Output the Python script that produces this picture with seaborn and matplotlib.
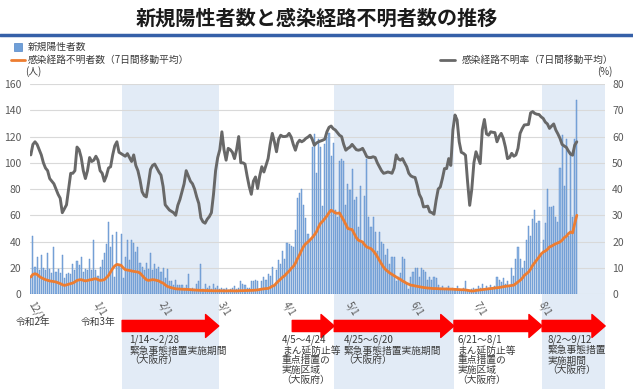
import numpy as np
import pandas as pd
import seaborn as sns
import matplotlib.pyplot as plt
from matplotlib.lines import Line2D
from matplotlib.patches import Rectangle

sns.set_theme(style='white')
plt.rcParams['font.family'] = ['Noto Sans CJK JP', 'DejaVu Sans']

# 新規陽性者数（日別）12/1 ~ 8/18
new_cases = [
    # 12月
    13, 44, 21, 28, 18, 30, 20, 18, 31, 19, 16, 36, 17, 19, 16, 30, 12, 15, 16, 15,
    23, 18, 25, 22, 28, 17, 19, 18, 27, 18, 41,
    # 1月
    18, 14, 21, 26, 31, 38, 55, 36, 45, 13, 47, 22, 46, 12, 28, 41, 26, 41, 39, 32,
    36, 24, 21, 18, 24, 19, 31, 18, 23, 19, 21,
    # 2月
    17, 20, 12, 19, 10, 10, 7, 11, 7, 7, 7, 5, 7, 15, 4, 5, 4, 8, 10, 23,
    4, 8, 5, 6, 4, 8, 5, 6,
    # 3月
    4, 5, 4, 5, 3, 4, 5, 6, 4, 5, 10, 8, 7, 5, 5, 10, 10, 11, 10, 3,
    10, 13, 11, 15, 14, 21, 7, 18, 26, 23, 33,
    # 4月
    27, 39, 38, 37, 36, 49, 73, 77, 80, 68, 58, 46, 41, 112, 122, 92, 118, 112, 67, 114,
    120, 123, 105, 115, 64, 59, 101, 103, 101, 68,
    # 5月
    84, 79, 95, 72, 74, 51, 82, 40, 75, 103, 59, 51, 59, 47, 33, 47, 40, 38, 30, 34,
    23, 28, 28, 10, 13, 16, 28, 27, 8, 4, 13,
    # 6月
    17, 20, 20, 13, 20, 18, 17, 11, 13, 11, 13, 12, 7, 5, 6, 4, 5, 6, 4, 5,
    3, 6, 4, 3, 5, 10, 3, 3, 4, 5,
    # 7月
    4, 6, 5, 8, 4, 6, 5, 7, 4, 6, 13, 11, 9, 12, 8, 10, 7, 20, 14, 27,
    36, 27, 20, 25, 41, 52, 44, 57, 64, 54, 56,
    # 8月
    30, 41, 54, 80, 66, 66, 67, 59, 55, 96, 121, 82, 118, 44, 108, 59, 118, 148,
]

# 感染経路不明者数（7日間移動平均）
unknown_avg = [
    13, 15, 15.5, 15, 13.5, 12.5, 11.7, 11, 10.5, 10, 9.8, 9.5, 9.2, 8.6, 8, 7.2, 6.6, 7, 7.5, 8,
    8.4, 9.3, 10.4, 10.8, 11, 10.5, 10, 10.4, 10.8, 11, 11.5,
    11.7, 11, 10.4, 10.6, 11, 12.5, 14.2, 16.8, 19.5, 21.5, 22.6, 22.3, 21.9, 20, 18.6, 18.3, 18, 17.6, 17.3, 17,
    16.8, 16, 14.2, 12.5, 11, 10.4, 10.7, 11, 10.8, 10.4, 10,
    9, 8.4, 7, 5.9, 5.3, 4.8, 4.4, 4, 3.9, 3.8, 3.7, 3.6, 3.6, 3.5, 3.4, 3.2, 3.1, 3, 2.9, 2.8,
    2.8, 2.7, 2.7, 2.6, 2.6, 2.5, 2.5, 2.5,
    2.5, 2.5, 2.4, 2.4, 2.5, 2.5, 2.5, 2.4, 2.4, 2.5, 2.6, 2.6, 2.7, 2.7, 2.8, 2.8, 2.9, 3, 3.2, 3.5,
    3.8, 4, 4.2, 4.3, 5, 6, 6.6, 8.5, 10, 11.5, 13,
    14.2, 16, 17.5, 19.5, 21, 23.5, 27, 30, 33.5, 36.5, 38.5, 39.7, 41.3, 43, 45, 47.3, 51, 54, 55.5, 57.5,
    59.5, 62, 63.9, 63, 61.8, 61.5, 61.8, 59, 56.2, 53,
    49.9, 49.5, 49.1, 46, 43, 41, 40.3, 39.7, 37.5, 35.9, 35.2, 34.6, 33, 31, 28.5, 25.7, 23, 20.5, 18.6, 17.3,
    16, 15, 14, 13, 12, 11.2, 10, 9.2, 8.2, 7.5, 6.8,
    6.6, 6.2, 5.9, 5.6, 5.3, 5, 4.8, 4.6, 4.5, 4.3, 4.2, 4.2, 4.1, 4, 4, 3.9, 3.9, 3.8, 3.8, 3.7,
    3.6, 3.5, 3.4, 3.3, 3.3, 3.1, 2.9, 2.6, 2.3, 2.4,
    2.8, 3, 3.2, 3.4, 3.6, 3.8, 4, 4.2, 4.4, 4.6, 4.8, 5, 5.3, 5.6, 5.9, 6.1, 6.3, 6.6, 6.8, 8,
    9.2, 10.5, 12, 14.2, 15.5, 16.8, 19, 21.9, 24, 26, 28.2,
    30.5, 32, 32.8, 34, 35.9, 36.5, 37.5, 38.4, 39, 39.7, 41, 43, 44, 46, 47.3, 46.6, 53.7, 60,
]

# 感染経路不明率（7日間移動平均, %）
unknown_rate = [
    53, 57, 58, 57, 55, 53, 50, 48, 47, 44, 43, 42, 40, 38, 36.5, 31, 32.5, 34, 40, 46,
    46, 47, 56, 55, 52, 47, 44, 47, 52, 50.5, 51,
    52.5, 51, 47, 46, 43, 45, 48, 48.5, 53, 56.5, 58, 54, 53.5, 53, 52.5, 53.5, 52, 50.5, 53, 49,
    47, 43.5, 39, 37.5, 37, 42, 47.5, 49, 49.5, 48, 46.5,
    45.3, 41, 34, 33, 32, 31.5, 31, 30, 33.8, 36, 39, 42, 47, 45, 43, 42, 40, 37, 34.5, 29,
    27.5, 27, 28.5, 29.5, 31, 38, 47, 52,
    55, 61.8, 55, 51, 55.5, 55, 54, 51.6, 55, 60, 50, 50, 49.5, 45, 41, 38, 43, 44.6, 40.2, 45,
    48.5, 46.5, 49, 51.6, 57, 61.2, 58, 54.2, 59, 60.5, 60,
    60, 60.2, 61.2, 59.8, 57, 54.8, 57.5, 58.6, 58, 58.5, 59.3, 59.8, 60.5, 59, 56.7, 57.5, 58, 58.3, 58.6, 59,
    61.8, 63.5, 64, 63, 62.5, 61.5, 60.5, 60, 57, 54.8,
    55.5, 56, 57, 56, 55, 54.8, 55, 55.5, 54, 52.3, 52, 52, 52.3, 52, 50, 48.5, 47, 46, 46.2, 46.5,
    46.3, 46, 48, 53, 51.5, 51, 51.6, 50, 48.5, 46, 45,
    44.6, 44.4, 41.5, 38, 36.4, 33.2, 33.3, 33.5, 31.3, 31, 30.4, 35.7, 40, 40.8, 44, 47.8, 47.8, 51.6, 49, 62.5,
    68.2, 66.3, 58, 54, 53.6, 52.9, 42.7, 33.8, 40, 50,
    54.2, 52, 49.7, 62.5, 66.5, 61, 60.5, 61.8, 61.6, 61.5, 58, 60, 61.2, 59.3, 56, 51.6, 52, 53.6, 52.5, 53,
    55.5, 61.2, 63, 64.4, 64.5, 64.6, 69, 69.5, 68.8, 68.5, 68.4,
    67.5, 66.9, 65.5, 64.8, 63.1, 64, 64.8, 62.5, 61, 59.3, 57, 56.4, 55.9, 54.5, 53.3, 52.9, 56.7, 58,
]

month_starts = ['2020-12-01', '2021-01-01', '2021-02-01', '2021-03-01', '2021-04-01',
                '2021-05-01', '2021-06-01', '2021-07-01', '2021-08-01']
month_labels = ['12/1', '1/1', '2/1', '3/1', '4/1', '5/1', '6/1', '7/1', '8/1']

# 措置期間
period_start = ['2021-01-14', '2021-04-05', '2021-04-25', '2021-06-21', '2021-08-02']
period_end = ['2021-02-28', '2021-04-24', '2021-06-20', '2021-08-01', '2021-09-12']
period_emergency = [True, False, True, False, True]
period_text = [
    '1/14～2/28\n緊急事態措置実施期間\n（大阪府）',
    '4/5～4/24\nまん延防止等\n重点措置の\n実施区域\n（大阪府）',
    '4/25～6/20\n緊急事態措置実施期間\n（大阪府）',
    '6/21～8/1\nまん延防止等\n重点措置の\n実施区域\n（大阪府）',
    '8/2～9/12\n緊急事態措置\n実施期間\n（大阪府）',
]
text_shift = [3, -5.5, 4, 1, 2]  # 日数

start = pd.Timestamp('2020-12-01')
dates = pd.date_range(start, periods=len(new_cases), freq='D')
df = pd.DataFrame({
    'day': (dates - start).days,
    'cases': new_cases,
    'unknown': unknown_avg,
    'rate': unknown_rate,
})


def day(s):
    return (pd.Timestamp(s) - start).days


x_end = day('2021-08-31') + 0.5
xlim = (-0.5, x_end)

BLUE = '#8db4e3'
BLUE_EDGE = '#5285c6'
ORANGE = '#ed7d31'
GRAY = '#686868'
TXT = '#595959'

fig = plt.figure(figsize=(6.33, 3.89), dpi=100)

# 背景（期間の網掛け・矢印・説明）
bg = fig.add_axes([0.047, 0.0, 0.909, 0.784], zorder=0)
bg.set_xlim(xlim)
bg.set_ylim(0, 1)
bg.axis('off')
for s, e, emg, txt, dx in zip(period_start, period_end, period_emergency, period_text, text_shift):
    x0 = day(s) - 0.5
    x1 = min(day(e) + 0.5, x_end)
    if emg:
        bg.axvspan(x0, x1, color='#e2ebf6', lw=0)
    bg.annotate('', xy=(x1, 0.162), xytext=(x0, 0.162),
                xycoords=('data', 'figure fraction'), textcoords=('data', 'figure fraction'),
                arrowprops=dict(arrowstyle='simple,head_length=0.95,head_width=1.65,tail_width=0.8',
                                mutation_scale=10, color='#fe0000', shrinkA=0, shrinkB=0),
                annotation_clip=False)
    bg.annotate(txt, xy=(day(s) + dx, 0.139), xycoords=('data', 'figure fraction'),
                ha='left', va='top', fontsize=7, color='#3a3a3a', linespacing=1.0,
                annotation_clip=False)

# 令和
for s, lab in zip(['2020-12-01', '2021-01-01'], ['令和2年', '令和3年']):
    bg.annotate(lab, xy=(day(s) + 1, 0.172), xycoords=('data', 'figure fraction'),
                ha='center', va='center', fontsize=7, color='#3a3a3a', annotation_clip=False)

# メインのグラフ
ax = fig.add_axes([0.047, 0.244, 0.909, 0.540], zorder=1)
ax.patch.set_alpha(0)
sns.barplot(data=df, x='day', y='cases', native_scale=True, color=BLUE, saturation=1,
            edgecolor=BLUE_EDGE, linewidth=0.3, width=0.55, errorbar=None, ax=ax)
sns.lineplot(data=df, x='day', y='unknown', color=ORANGE, lw=2, ax=ax)
ax.set_xlim(xlim)
ax.set_ylim(0, 160)
ax.set_yticks(range(0, 161, 20))
ax.grid(axis='y', color='#d9d9d9', lw=0.8)
ax.set_axisbelow(True)
ax.set_xlabel('')
ax.set_ylabel('')
ax.set_xticks([day(m) for m in month_starts])
ax.set_xticklabels(month_labels, rotation=-60, ha='left', va='center', rotation_mode='anchor')
ax.tick_params(axis='x', length=0, pad=6, labelsize=7, labelcolor=TXT)
ax.tick_params(axis='y', length=0, pad=6, labelsize=7.5, labelcolor=TXT)
for sp in ax.spines.values():
    sp.set_visible(False)

ax2 = ax.twinx()
sns.lineplot(data=df, x='day', y='rate', color=GRAY, lw=2.1, ax=ax2)
ax2.set_xlim(xlim)
ax2.set_ylim(0, 80)
ax2.set_yticks(range(0, 81, 10))
ax2.set_ylabel('')
ax2.tick_params(axis='y', length=0, pad=5, labelsize=7.5, labelcolor=TXT)
for sp in ax2.spines.values():
    sp.set_visible(False)

# タイトル
fig.text(0.5, 1 - 18 / 389, '新規陽性者数と感染経路不明者数の推移', ha='center', va='center',
         fontsize=14.5, fontweight='bold', color='#1a1a1a')
fig.add_artist(Line2D([0, 1], [1 - 35 / 389] * 2, color='#3560a8', lw=2.5))

# 凡例
fig.add_artist(Rectangle((14 / 633, 1 - 51 / 389), 8 / 633, 8 / 389, color='#6f9fd8', ec=BLUE_EDGE, lw=0.5))
fig.text(28 / 633, 1 - 47 / 389, '新規陽性者数', va='center', fontsize=7, color='#3a3a3a')
fig.add_artist(Line2D([11 / 633, 25 / 633], [1 - 60 / 389] * 2, color=ORANGE, lw=2))
fig.text(28 / 633, 1 - 60 / 389, '感染経路不明者数（7日間移動平均）', va='center', fontsize=7, color='#3a3a3a')
fig.text(25 / 633, 1 - 72 / 389, '(人)', va='center', fontsize=7, color='#3a3a3a')
fig.add_artist(Line2D([440 / 633, 455 / 633], [1 - 60 / 389] * 2, color=GRAY, lw=2))
fig.text(462 / 633, 1 - 60 / 389, '感染経路不明率（7日間移動平均）', va='center', fontsize=7, color='#3a3a3a')
fig.text(612 / 633, 1 - 72 / 389, '(%)', va='center', ha='right', fontsize=7, color='#3a3a3a')

fig.savefig('out.png', dpi=100)
